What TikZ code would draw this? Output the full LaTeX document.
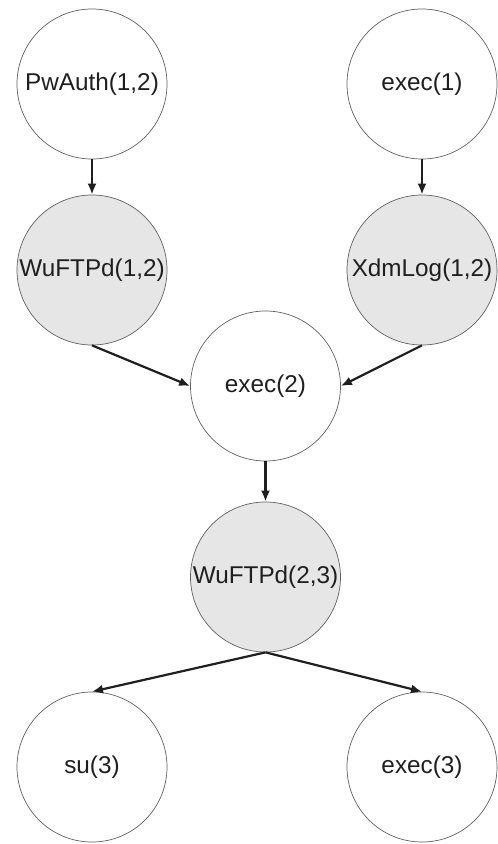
\documentclass[tikz,border=0pt]{standalone}
\usepackage{fontspec}
\setmainfont{Liberation Sans}
\usepackage{xcolor}
\usepackage{tikz}
\usetikzlibrary{arrows}
\usetikzlibrary{arrows.meta}
\usetikzlibrary{shapes}
\definecolor{shade}{HTML}{E6E6E6}
\definecolor{rim}{HTML}{606060}
\tikzset{>=latex}
\tikzstyle{var} = [circle, draw = rim, line width = 0.7pt, minimum size = 150pt, inner sep = 0, font = \fontsize{24.3}{28}\selectfont, text = black!88]
\tikzstyle{obs} = [var, fill = shade]
\tikzstyle{dep} = [-{Latex[length = 11pt, width = 9pt]}, line width = 2.2pt, draw = black!88]

\begin{document}
\begin{tikzpicture}[x = 1pt, y = -1pt]
\useasboundingbox (0, 0) rectangle (498, 844);
\node [var] (P) at (92, 84) {PwAuth(1,2)};
\node [var] (E1) at (422, 84) {exec(1)};
\node [obs] (W12) at (92, 270) {WuFTPd(1,2)};
\node [obs] (X) at (422, 270) {XdmLog(1,2)};
\node [var] (E2) at (265.5, 386) {exec(2)};
\node [obs] (W23) at (265.5, 577) {WuFTPd(2,3)};
\node [var] (S) at (92, 767) {su(3)};
\node [var] (E3) at (422, 767) {exec(3)};
\draw [dep] (P) to (W12);
\draw [dep] (E1) to (X);
\draw [dep] (W12.south) to (E2.west);
\draw [dep] (X.south) to (E2.east);
\draw [dep] (E2) to (W23);
\draw [dep] (W23.south) to (S.north);
\draw [dep] (W23.south) to (E3.north);
\end{tikzpicture}
\end{document}
